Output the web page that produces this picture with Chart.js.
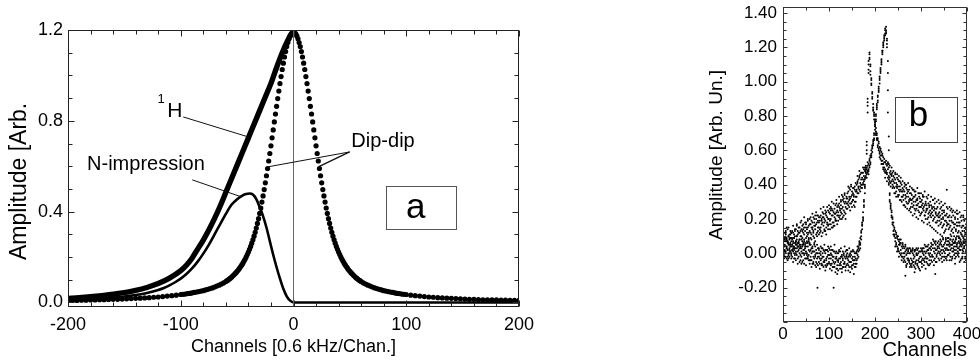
<!DOCTYPE html>
<html><head><meta charset="utf-8">
<script src="https://cdn.jsdelivr.net/npm/chart.js@4.4.1/dist/chart.umd.min.js"></script>
<style>
html,body{margin:0;padding:0;background:#fff;width:980px;height:362px;overflow:hidden}
#wa{position:absolute;left:0;top:0;width:540px;height:362px}
#wb{position:absolute;left:680px;top:0;width:300px;height:362px}
</style></head><body>
<div id="wa"><canvas id="ca" width="540" height="362"></canvas></div>
<div id="wb"><canvas id="cb" width="300" height="362"></canvas></div>
<script>
// ---------------- Panel a data ----------------
const xTicksA = [-200,-100,0,100,200];
const xTickLabelsA = ['-200','-100','0','100','200'];
const yTicksA = [0,0.4,0.8,1.2];
const yTickLabelsA = ['0.0','0.4','0.8','1.2'];

const dipX = [-200,-196,-192,-188,-184,-180,-176,-172,-168,-164,-160,-156,-152,-148,-144,-140,-136,-132,-128,-124,-120,-116,-112,-108,-104,
-100,-98,-96,-94,-92,-90,-88,-86,-84,-82,-80,-78,-76,-74,-72,-70,-68,-66,-64,-62,
-60,-59,-58,-57,-56,-55,-54,-53,-52,-51,-50,-49,-48,-47,-46,-45,-44,-43,-42,-41,-40,-39,-38,-37,-36,-35,-34,-33,-32,-31,-30,
-29,-28,-27,-26,-25,-24,-23,-22,-21,-20,-19,-18,-17,-16,-15,-14,-13,-12,-11,-10,-9,-8,-7,-6,-5,-4,-3,-2,-1,0,
1,2,3,4,5,6,7,8,9,10,11,12,13,14,15,16,17,18,19,20,21,22,23,24,25,26,27,28,29,30,
31,32,33,34,35,36,37,38,39,40,41,42,43,44,45,46,47,48,49,50,51,52,53,54,55,56,57,58,59,60,
62,64,66,68,70,72,74,76,78,80,82,84,86,88,90,92,94,96,98,100,
104,108,112,116,120,124,128,132,136,140,144,148,152,156,160,164,168,172,176,180,184,188,192,196,200];
const dipY = [0.009,0.009,0.009,0.010,0.010,0.011,0.011,0.012,0.012,0.013,0.014,0.014,0.015,0.016,0.017,0.018,0.019,0.020,0.021,0.023,0.024,0.026,0.028,0.030,0.032,
0.035,0.036,0.037,0.039,0.040,0.042,0.044,0.046,0.048,0.050,0.052,0.055,0.058,0.061,0.064,0.068,0.072,0.076,0.081,0.086,
0.092,0.096,0.099,0.103,0.107,0.111,0.116,0.121,0.126,0.131,0.137,0.143,0.150,0.157,0.164,0.172,0.181,0.190,0.200,0.211,0.222,
0.234,0.247,0.261,0.276,0.292,0.309,0.328,0.348,0.369,0.392,
0.416,0.442,0.469,0.497,0.527,0.558,0.590,0.623,0.656,0.690,0.725,0.760,0.795,0.830,0.864,0.898,0.931,0.964,0.995,1.026,
1.054,1.081,1.105,1.127,1.145,1.161,1.174,1.183,1.188,1.190,
1.188,1.183,1.174,1.161,1.145,1.127,1.105,1.081,1.054,1.026,0.995,0.964,0.931,0.898,0.864,0.830,0.795,0.760,0.725,0.690,
0.656,0.623,0.590,0.558,0.527,0.497,0.469,0.442,0.416,0.392,
0.369,0.348,0.328,0.309,0.292,0.276,0.261,0.247,0.234,0.222,0.211,0.200,0.190,0.181,0.172,0.164,0.157,0.150,0.143,0.137,
0.131,0.126,0.121,0.116,0.111,0.107,0.103,0.099,0.096,0.092,
0.086,0.081,0.076,0.072,0.068,0.064,0.061,0.058,0.055,0.052,0.050,0.048,0.046,0.044,0.042,0.040,0.039,0.037,0.036,0.035,
0.032,0.030,0.028,0.026,0.024,0.023,0.021,0.020,0.019,0.018,0.017,0.016,0.015,0.014,0.014,0.013,0.012,0.012,0.011,0.011,0.010,0.010,0.009,0.009,0.009];

const hX = [-200,-190,-180,-170,-160,-150,-140,-130,-120,-110,-100,-95,-90,-85,-80,-75,-70,-65,-60,-55,-50,-45,-40,-35,-30,-25,-20,-15,-10,-5,-2,0];
const hY = [0.018,0.021,0.025,0.030,0.036,0.043,0.053,0.066,0.083,0.107,0.140,0.164,0.195,0.235,0.275,0.320,0.370,0.425,0.485,0.545,0.605,0.665,0.725,0.785,0.845,0.905,0.965,1.035,1.100,1.155,1.182,1.190];

const nX = [-200,-190,-180,-170,-160,-150,-140,-130,-120,-115,-110,-105,-100,-95,-90,-85,-80,-75,-70,-65,-60,-55,-50,-45,-42,-39,-36,-33,-30,-27,-24,-21,-18,-15,-12,-9,-6,-3,0,50,100,150,200];
const nY = [0.010,0.012,0.014,0.017,0.021,0.026,0.033,0.042,0.055,0.064,0.075,0.089,0.105,0.125,0.150,0.180,0.215,0.255,0.300,0.345,0.390,0.430,0.455,0.472,0.478,0.480,0.475,0.455,0.420,0.380,0.330,0.270,0.210,0.155,0.105,0.060,0.027,0.008,0.000,0.000,0.000,0.000,0.000];

const zeroLineX = [0,0];
const zeroLineY = [-0.02,1.2];

// ---------------- Panel b data ----------------
const xTicksB = [0,100,200,300,400];
const xTickLabelsB = ['0','100','200','300','400'];
const yTicksB = [-0.2,0,0.2,0.4,0.6,0.8,1.0,1.2,1.4];
const yTickLabelsB = ['-0.20','0.00','0.20','0.40','0.60','0.80','1.00','1.20','1.40'];

const chB = [0,2,4,6,8,10,12,14,16,18,20,22,24,26,28,30,32,34,36,38,
40,42,44,46,48,50,52,54,56,58,60,62,64,66,68,70,72,74,76,78,
80,82,84,86,88,90,92,94,96,98,100,102,104,106,108,110,112,114,116,118,
120,122,124,126,128,130,132,134,136,138,140,142,144,146,148,150,152,154,156,158,
160,162,164,166,168,170,172,174,176,178,180,182,184,186,188,190,192,194,196,198,
200,202,204,206,208,210,212,214,216,218,220,222,224,226,228,230,232,234,236,238,
240,242,244,246,248,250,252,254,256,258,260,262,264,266,268,270,272,274,276,278,
280,282,284,286,288,290,292,294,296,298,300,302,304,306,308,310,312,314,316,318,
320,322,324,326,328,330,332,334,336,338,340,342,344,346,348,350,352,354,356,358,
360,362,364,366,368,370,372,374,376,378,380,382,384,386,388,390,392,394,396,398,400];

// spectrum with broad left wing and sharp right peak (four scans)
const scanA1 = [0.10,0.02,0.08,0.13,0.04,0.07,-0.01,0.11,0.06,0.09,
0.05,0.12,0.09,0.03,0.14,0.08,0.11,0.06,0.15,0.10,
0.08,0.16,0.12,0.07,0.13,0.18,0.10,0.15,0.09,0.17,
0.12,0.19,0.15,0.10,0.20,0.14,0.17,0.22,0.13,0.18,
0.21,0.15,0.19,0.24,0.16,0.20,0.13,0.22,0.18,0.25,
0.17,0.23,0.20,0.26,0.18,0.24,0.21,0.28,0.19,0.25,
0.22,0.29,0.25,0.31,0.23,0.27,0.32,0.24,0.30,0.26,
0.35,0.28,0.33,0.37,0.29,0.34,0.31,0.38,0.30,0.36,
0.36,0.41,0.38,0.44,0.39,0.43,0.40,0.47,0.42,0.48,
0.45,0.50,0.47,0.52,0.50,0.57,0.56,0.63,0.64,0.70,
0.72,0.81,0.84,0.92,0.94,1.02,1.05,1.13,1.16,1.23,
1.24,1.30,1.29,1.22,0.95,0.52,0.35,0.26,0.24,0.17,
0.18,0.10,0.13,0.05,0.09,0.02,0.07,0.00,0.06,-0.02,
0.05,-0.03,0.03,-0.05,0.02,-0.06,0.01,-0.04,0.03,-0.07,
0.01,-0.05,-0.01,-0.08,0.02,-0.04,-0.06,0.00,-0.09,-0.02,
-0.05,0.02,-0.03,-0.07,0.01,-0.02,0.04,-0.06,0.00,-0.04,
0.03,-0.04,0.05,-0.02,0.01,0.06,-0.05,0.02,0.04,-0.03,
0.05,-0.01,0.07,0.00,0.04,-0.04,0.06,0.02,-0.02,0.05,
-0.01,0.06,0.02,-0.04,0.07,0.01,0.04,-0.03,0.08,0.00,
0.06,-0.02,0.04,0.08,-0.03,0.05,0.01,-0.05,0.07,0.02,0.04];
const scanA2 = [0.03,0.09,0.12,0.01,0.07,0.14,0.05,0.00,0.11,0.04,
0.13,0.06,0.02,0.10,0.07,0.16,0.04,0.12,0.08,0.13,
0.14,0.09,0.17,0.11,0.06,0.15,0.12,0.19,0.08,0.13,
0.17,0.11,0.14,0.21,0.09,0.16,0.20,0.12,0.19,0.15,
0.14,0.22,0.17,0.12,0.23,0.18,0.25,0.15,0.21,0.16,
0.24,0.19,0.27,0.15,0.22,0.18,0.26,0.20,0.29,0.22,
0.28,0.21,0.26,0.30,0.20,0.33,0.25,0.29,0.23,0.32,
0.29,0.36,0.27,0.32,0.39,0.30,0.35,0.28,0.37,0.33,
0.40,0.35,0.43,0.37,0.46,0.38,0.44,0.41,0.49,0.43,
0.49,0.46,0.51,0.48,0.54,0.53,0.60,0.59,0.66,0.67,
0.76,0.78,0.87,0.88,0.97,0.99,1.08,1.10,1.18,1.21,
1.27,1.28,1.32,1.25,1.12,0.68,0.31,0.29,0.21,0.20,
0.13,0.14,0.07,0.11,0.04,0.08,0.01,0.06,-0.01,0.04,
-0.02,0.04,-0.04,0.01,-0.07,0.03,-0.03,0.00,-0.06,0.02,
-0.04,0.00,-0.07,-0.02,-0.05,0.03,-0.01,-0.08,0.01,-0.05,
0.01,-0.06,0.03,-0.01,-0.05,0.04,-0.03,0.02,-0.07,0.03,
-0.02,0.04,-0.05,0.03,0.07,-0.03,0.02,-0.01,0.06,0.01,
0.00,0.06,-0.03,0.04,0.08,0.01,-0.02,0.07,0.03,-0.01,
0.05,0.00,0.08,0.03,-0.02,0.06,-0.01,0.07,0.02,0.05,
-0.01,0.07,0.02,-0.04,0.06,0.00,0.09,0.03,-0.02,0.08,-0.01];
const scanA3 = [0.07,0.00,0.05,0.09,0.15,0.02,0.10,0.08,0.01,0.12,
0.09,0.03,0.11,0.14,0.05,0.10,0.13,0.07,0.12,0.05,
0.10,0.13,0.06,0.15,0.18,0.09,0.14,0.11,0.16,0.20,
0.09,0.15,0.18,0.13,0.16,0.22,0.11,0.18,0.15,0.21,
0.19,0.13,0.20,0.18,0.21,0.14,0.19,0.24,0.17,0.20,
0.20,0.26,0.17,0.22,0.25,0.16,0.23,0.19,0.24,0.27,
0.24,0.27,0.22,0.28,0.26,0.31,0.22,0.34,0.27,0.29,
0.32,0.30,0.38,0.29,0.33,0.36,0.31,0.34,0.39,0.30,
0.37,0.42,0.39,0.45,0.41,0.40,0.47,0.43,0.45,0.50,
0.47,0.49,0.48,0.49,0.51,0.56,0.58,0.61,0.65,0.69,
0.74,0.80,0.86,0.89,0.96,1.01,1.07,1.12,1.17,1.20,
1.26,1.27,1.30,1.20,0.82,0.40,0.34,0.27,0.22,0.18,
0.16,0.11,0.09,0.06,0.10,0.03,0.05,0.08,0.02,0.00,
0.03,0.00,-0.02,0.04,-0.01,-0.03,0.02,-0.05,0.00,-0.03,
-0.06,0.02,-0.03,0.01,-0.06,-0.01,0.02,-0.04,-0.03,0.01,
-0.02,-0.04,0.01,0.03,-0.03,0.00,-0.05,0.04,0.02,-0.01,
0.00,0.02,-0.01,0.05,-0.04,0.03,0.05,-0.02,0.00,0.04,
0.03,0.01,0.05,-0.02,0.02,0.05,0.00,-0.03,0.05,0.02,
0.02,0.04,-0.02,0.05,0.01,0.03,0.06,0.00,-0.02,0.04,
0.03,0.00,0.06,0.02,0.04,-0.03,0.03,0.06,0.00,-0.04,0.05];
const scanA4 = [0.14,-0.03,0.01,0.12,0.09,-0.02,0.15,0.03,0.13,0.00,
0.02,0.16,0.04,0.13,0.00,0.17,0.06,0.15,0.03,0.18,
0.19,0.05,0.14,0.21,0.04,0.17,0.07,0.20,0.12,0.06,
0.21,0.08,0.23,0.12,0.18,0.07,0.24,0.10,0.22,0.11,
0.12,0.26,0.10,0.21,0.27,0.13,0.23,0.11,0.27,0.14,
0.28,0.14,0.25,0.30,0.15,0.29,0.16,0.23,0.31,0.17,
0.19,0.33,0.20,0.24,0.34,0.21,0.30,0.35,0.20,0.33,
0.26,0.39,0.31,0.25,0.40,0.27,0.38,0.33,0.27,0.41,
0.33,0.45,0.35,0.48,0.36,0.47,0.38,0.50,0.40,0.44,
0.51,0.44,0.53,0.46,0.55,0.52,0.57,0.62,0.63,0.66,
0.75,0.77,0.85,0.91,0.95,1.03,1.06,1.11,1.18,1.22,
1.25,1.31,1.28,1.24,1.05,0.60,0.30,0.28,0.25,0.21,
0.11,0.15,0.04,0.12,0.01,0.10,-0.02,0.05,0.08,-0.04,
0.06,-0.05,0.00,0.05,-0.08,0.00,-0.04,0.03,-0.08,0.01,
-0.08,0.03,-0.05,0.02,-0.09,0.00,-0.07,0.03,-0.05,-0.10,
0.03,-0.08,0.00,-0.04,0.05,-0.09,0.01,-0.03,0.05,-0.07,
-0.06,0.06,-0.02,0.08,-0.07,0.00,0.07,-0.05,0.03,0.07,
-0.04,0.08,0.02,-0.05,0.09,-0.02,0.03,0.09,-0.04,0.07,
0.09,-0.04,0.05,0.10,-0.03,0.08,0.02,-0.06,0.06,0.10,
0.01,0.09,-0.05,0.05,0.11,-0.02,0.07,0.10,-0.03,0.06,0.09];

// spectrum with sharp left peak and broad right wing (four scans)
const scanB1 = [0.06,-0.01,0.04,0.00,0.08,0.02,-0.03,0.05,0.01,0.07,
-0.02,0.04,0.00,0.06,-0.04,0.03,0.01,-0.02,0.05,-0.01,
0.03,-0.05,0.02,-0.01,0.05,-0.03,0.00,0.04,-0.04,0.01,
-0.02,0.03,-0.06,0.01,-0.03,0.04,-0.05,0.00,-0.02,0.02,
-0.06,0.01,-0.03,-0.07,0.02,-0.04,0.00,-0.08,-0.02,0.01,
-0.05,0.02,-0.07,-0.01,-0.04,0.01,-0.06,-0.03,-0.09,0.00,
-0.04,-0.07,0.01,-0.05,-0.02,-0.08,0.00,-0.06,-0.03,-0.01,
-0.06,-0.02,-0.08,0.00,-0.05,-0.03,-0.07,0.01,-0.04,-0.06,
0.01,-0.03,0.04,0.02,0.09,0.13,0.14,0.24,0.28,0.39,
0.44,0.65,0.82,1.05,1.14,1.09,0.98,0.93,0.84,0.81,
0.74,0.73,0.66,0.67,0.60,0.62,0.55,0.59,0.52,0.56,
0.48,0.53,0.47,0.51,0.44,0.50,0.42,0.48,0.45,0.40,
0.45,0.38,0.43,0.36,0.44,0.39,0.34,0.42,0.37,0.33,
0.38,0.31,0.36,0.40,0.30,0.35,0.29,0.37,0.32,0.27,
0.34,0.27,0.33,0.36,0.25,0.31,0.28,0.35,0.24,0.30,
0.23,0.31,0.26,0.33,0.22,0.29,0.25,0.32,0.21,0.28,
0.30,0.21,0.27,0.19,0.25,0.29,0.18,0.26,0.22,0.16,
0.24,0.17,0.27,0.15,0.21,0.25,0.13,0.22,0.18,0.26,
0.14,0.22,0.11,0.19,0.24,0.12,0.17,0.21,0.09,0.18,
0.20,0.10,0.16,0.07,0.19,0.13,0.22,0.08,0.15,0.05,0.12];
const scanB2 = [0.01,0.05,-0.02,0.07,0.03,-0.04,0.06,0.02,0.09,-0.01,
0.05,0.01,-0.03,0.03,0.07,-0.01,0.04,0.02,-0.05,0.03,
-0.02,0.04,0.00,-0.06,0.03,0.01,-0.03,0.06,-0.01,-0.04,
0.02,-0.04,0.01,-0.02,0.05,-0.07,0.00,-0.03,0.03,-0.05,
0.00,-0.04,0.03,-0.02,-0.05,0.01,-0.07,-0.03,0.02,-0.06,
-0.01,-0.06,-0.03,0.02,-0.08,-0.02,0.01,-0.05,-0.03,-0.07,
0.00,-0.03,-0.06,-0.02,-0.09,-0.04,-0.01,-0.05,-0.08,-0.02,
-0.03,-0.07,-0.01,-0.05,-0.08,0.01,-0.04,-0.06,-0.02,0.00,
-0.04,0.02,0.01,0.06,0.05,0.10,0.17,0.20,0.31,0.35,
0.48,0.60,0.88,1.10,1.16,1.06,1.01,0.90,0.87,0.78,
0.77,0.70,0.69,0.63,0.64,0.58,0.60,0.54,0.57,0.50,
0.53,0.47,0.52,0.46,0.49,0.43,0.47,0.41,0.46,0.43,
0.39,0.44,0.35,0.41,0.38,0.33,0.42,0.36,0.31,0.40,
0.33,0.37,0.28,0.34,0.38,0.29,0.36,0.31,0.26,0.35,
0.29,0.37,0.30,0.26,0.34,0.28,0.32,0.25,0.33,0.27,
0.30,0.24,0.33,0.27,0.22,0.30,0.26,0.20,0.29,0.24,
0.22,0.28,0.24,0.31,0.20,0.26,0.23,0.18,0.27,0.21,
0.19,0.26,0.20,0.23,0.16,0.24,0.19,0.14,0.23,0.17,
0.21,0.15,0.25,0.13,0.18,0.22,0.10,0.20,0.14,0.23,
0.12,0.18,0.09,0.21,0.11,0.16,0.06,0.19,0.12,0.17,0.08];
const scanB3 = [0.04,0.02,0.07,-0.02,0.03,0.06,0.00,0.09,0.04,-0.03,
0.02,0.07,0.03,-0.01,0.01,0.05,-0.03,0.06,0.00,0.04,
0.01,0.00,0.05,0.02,-0.03,0.04,-0.01,-0.03,0.02,0.05,
-0.04,0.00,0.03,-0.05,0.01,-0.01,0.02,-0.06,0.00,-0.02,
-0.03,-0.01,-0.06,0.00,-0.02,-0.05,0.02,-0.04,-0.06,-0.01,
-0.03,-0.01,0.00,-0.06,-0.02,-0.05,-0.08,0.00,-0.02,-0.04,
-0.05,0.01,-0.03,-0.07,-0.01,-0.03,-0.06,-0.02,0.01,-0.07,
0.00,-0.04,-0.05,-0.02,-0.01,-0.07,-0.02,-0.04,-0.08,-0.03,
0.00,-0.01,0.03,0.05,0.06,0.12,0.16,0.21,0.30,0.38,
0.47,0.63,0.86,1.07,1.13,1.10,0.99,0.91,0.85,0.82,
0.75,0.71,0.67,0.66,0.61,0.59,0.57,0.57,0.54,0.52,
0.50,0.49,0.48,0.47,0.52,0.45,0.44,0.46,0.42,0.47,
0.42,0.41,0.46,0.39,0.40,0.43,0.37,0.39,0.41,0.36,
0.36,0.34,0.39,0.32,0.33,0.37,0.33,0.30,0.35,0.31,
0.31,0.32,0.28,0.33,0.30,0.26,0.31,0.29,0.27,0.32,
0.27,0.28,0.29,0.25,0.28,0.24,0.28,0.26,0.23,0.27,
0.25,0.23,0.26,0.22,0.27,0.21,0.24,0.22,0.19,0.23,
0.21,0.22,0.18,0.25,0.20,0.17,0.22,0.19,0.16,0.21,
0.17,0.19,0.16,0.21,0.14,0.18,0.15,0.17,0.13,0.16,
0.16,0.13,0.18,0.12,0.15,0.10,0.16,0.13,0.11,0.14,0.10];
const scanB4 = [-0.04,0.09,0.02,0.11,-0.03,0.07,0.10,-0.02,0.05,0.12,
0.08,-0.05,0.09,-0.03,0.06,0.10,-0.06,0.04,0.08,-0.04,
-0.06,0.07,-0.04,0.08,0.00,-0.07,0.06,-0.02,0.07,-0.06,
0.05,-0.08,0.04,-0.06,0.06,-0.02,-0.08,0.05,-0.07,0.03,
-0.09,0.04,-0.07,0.03,-0.08,0.05,-0.10,0.02,-0.07,0.04,
0.03,-0.09,0.04,-0.10,0.02,-0.08,0.05,-0.11,0.01,-0.09,
-0.10,0.02,-0.09,0.03,-0.11,0.01,-0.08,0.04,-0.10,0.02,
0.02,-0.10,0.03,-0.11,0.01,-0.09,0.02,-0.12,0.00,-0.08,
-0.06,0.04,-0.02,0.07,0.03,0.08,0.18,0.19,0.27,0.40,
0.50,0.58,0.90,1.12,1.17,1.04,1.02,0.94,0.83,0.80,
0.78,0.69,0.70,0.62,0.65,0.56,0.61,0.52,0.58,0.49,
0.55,0.44,0.54,0.42,0.53,0.41,0.51,0.39,0.50,0.38,
0.48,0.35,0.47,0.33,0.46,0.34,0.45,0.31,0.44,0.30,
0.42,0.28,0.41,0.27,0.40,0.26,0.41,0.25,0.39,0.24,
0.38,0.22,0.37,0.23,0.36,0.21,0.38,0.20,0.35,0.22,
0.35,0.19,0.34,0.18,0.36,0.20,0.33,0.17,0.34,0.18,
0.16,0.33,0.15,0.31,0.14,0.32,0.13,0.30,0.12,0.31,
0.29,0.11,0.30,0.10,0.28,0.12,0.29,0.08,0.27,0.09,
0.07,0.27,0.08,0.26,0.05,0.25,0.06,0.24,0.04,0.25,
0.23,0.03,0.24,0.05,0.22,0.02,0.21,0.04,0.20,0.01,0.19];

const strayX = [75,110,356,266,286,118,331];
const strayY = [-0.20,-0.20,0.37,-0.13,-0.11,-0.12,-0.12];

// ---------------- helpers / plugins ----------------
const FAM = '"Liberation Sans", Arial, Helvetica, sans-serif';
Chart.defaults.font.family = FAM;
Chart.defaults.color = '#000';
function pts(xs, ys){ return xs.map((x,i)=>({x:x, y:ys[i]})); }

const frameTicks = {
  id:'frameTicks',
  afterDatasetsDraw(chart, args, o){
    const {ctx, chartArea:a, scales:{x,y}} = chart;
    ctx.save();
    ctx.strokeStyle = o.color; ctx.lineWidth = 1;
    ctx.beginPath();
    const L = Math.round(a.left)+0.5, R = Math.round(a.right)-0.5, T = Math.round(a.top)+0.5, B = Math.round(a.bottom)-0.5;
    const nx = Math.round((o.xEnd-o.xStart)/o.xStep);
    for(let i=0;i<=nx;i++){
      const v = o.xStart + i*o.xStep;
      const px = Math.round(x.getPixelForValue(v))+0.5;
      const r = v/o.xMajor; const len = Math.abs(r-Math.round(r))<1e-6 ? o.major : o.minor;
      ctx.moveTo(px,B); ctx.lineTo(px,B-len);
      ctx.moveTo(px,T); ctx.lineTo(px,T+len);
    }
    const ny = Math.round((o.yEnd-o.yStart)/o.yStep);
    for(let i=0;i<=ny;i++){
      const v = o.yStart + i*o.yStep;
      const py = Math.round(y.getPixelForValue(v))+0.5;
      const r = v/o.yMajor; const len = Math.abs(r-Math.round(r))<1e-6 ? o.major : o.minor;
      ctx.moveTo(L,py); ctx.lineTo(L+len,py);
      ctx.moveTo(R,py); ctx.lineTo(R-len,py);
    }
    ctx.stroke();
    ctx.strokeRect(L,T,R-L,B-T);
    ctx.restore();
  }
};

const notes = {
  id:'notes',
  afterDatasetsDraw(chart, args, o){
    const {ctx, scales:{x,y}} = chart;
    ctx.save();
    (o.lines||[]).forEach(l=>{
      ctx.beginPath(); ctx.strokeStyle=l.color; ctx.lineWidth=l.width;
      ctx.moveTo(x.getPixelForValue(l.x1), y.getPixelForValue(l.y1));
      ctx.lineTo(x.getPixelForValue(l.x2), y.getPixelForValue(l.y2));
      ctx.stroke();
    });
    (o.boxes||[]).forEach(b=>{
      const x1=Math.round(x.getPixelForValue(b.x1))+0.5, x2=Math.round(x.getPixelForValue(b.x2))+0.5;
      const y1=Math.round(y.getPixelForValue(b.y1))+0.5, y2=Math.round(y.getPixelForValue(b.y2))+0.5;
      ctx.strokeStyle=b.color; ctx.lineWidth=b.width;
      ctx.strokeRect(x1,y1,x2-x1,y2-y1);
    });
    (o.texts||[]).forEach(t=>{
      ctx.font=t.font; ctx.fillStyle=t.color||'#000'; ctx.textAlign=t.align||'left'; ctx.textBaseline='alphabetic';
      ctx.fillText(t.text, x.getPixelForValue(t.x), y.getPixelForValue(t.y));
    });
    ctx.restore();
  }
};

const yTitle = {
  id:'yTitle',
  afterDraw(chart, args, o){
    const ctx = chart.ctx;
    ctx.save();
    ctx.translate(o.x, o.y); ctx.rotate(-Math.PI/2);
    ctx.font = o.font; ctx.fillStyle = '#000'; ctx.textAlign='left'; ctx.textBaseline='alphabetic';
    ctx.fillText(o.text, 0, 0);
    ctx.restore();
  }
};

// ---------------- Chart a ----------------
new Chart(document.getElementById('ca'), {
  type:'scatter',
  data:{ datasets:[
    {label:'zero', data:pts(zeroLineX, zeroLineY), showLine:true, borderColor:'#666', borderWidth:1, pointRadius:0},
    {label:'N-impression', data:pts(nX, nY), showLine:true, borderColor:'#000', borderWidth:2.6, pointRadius:0, cubicInterpolationMode:'monotone', borderCapStyle:'round', borderJoinStyle:'round'},
    {label:'1H', data:pts(hX, hY), showLine:true, borderColor:'#000', borderWidth:5.4, pointRadius:0, cubicInterpolationMode:'monotone', borderCapStyle:'round', borderJoinStyle:'round'},
    {label:'Dip-dip', data:pts(dipX, dipY), showLine:false, pointRadius:2.6, pointBackgroundColor:'#000', pointBorderWidth:0, pointHoverRadius:2.6}
  ]},
  options:{
    responsive:false, animation:false, devicePixelRatio:1,
    layout:{padding:{left:0,right:21,top:30,bottom:0}},
    plugins:{
      legend:{display:false}, tooltip:{enabled:false},
      frameTicks:{xStart:-200,xEnd:200,xStep:20,xMajor:100,yStart:0,yEnd:1.2,yStep:0.1,yMajor:0.4,major:6,minor:4,color:'#222'},
      notes:{
        lines:[
          {x1:-97.8,y1:0.817,x2:-40,y2:0.729,color:'#111',width:1},
          {x1:-89.8,y1:0.540,x2:-46.2,y2:0.465,color:'#111',width:1},
          {x1:49.8,y1:0.663,x2:-23.1,y2:0.597,color:'#111',width:1},
          {x1:49.8,y1:0.663,x2:22.5,y2:0.598,color:'#111',width:1.3}
        ],
        boxes:[{x1:82.2,y1:0.515,x2:144.4,y2:0.322,color:'#555',width:1}],
        texts:[
          {text:'1',x:-120.6,y:0.877,font:'13px '+FAM},
          {text:'H',x:-112,y:0.817,font:'21px '+FAM},
          {text:'N-impression',x:-183.1,y:0.584,font:'20px '+FAM},
          {text:'Dip-dip',x:51.3,y:0.684,font:'20px '+FAM},
          {text:'a',x:108.4,y:0.371,font:'35px '+FAM,align:'center'}
        ]
      },
      yTitle:{text:'Amplitude [Arb.',x:26,y:260,font:'23px '+FAM}
    },
    scales:{
      x:{type:'linear',min:-200,max:200,
        afterBuildTicks(s){ s.ticks = xTicksA.map(v=>({value:v})); },
        ticks:{callback:(v,i)=>xTickLabelsA[i], font:{size:18}, color:'#000', padding:7, maxRotation:0, autoSkip:false},
        grid:{display:false, drawTicks:false}, border:{display:false},
        title:{display:true, text:'Channels [0.6 kHz/Chan.]', font:{size:18}, color:'#000', padding:{top:0,bottom:4}},
        afterFit(s){ s.height=55; s.paddingLeft=0; s.paddingRight=0; }
      },
      y:{type:'linear',min:-0.02,max:1.2,
        afterBuildTicks(s){ s.ticks = yTicksA.map(v=>({value:v})); },
        ticks:{callback:(v,i)=>yTickLabelsA[i], font:{size:18}, color:'#000', padding:5, autoSkip:false},
        grid:{display:false, drawTicks:false}, border:{display:false},
        afterFit(s){ s.width=68; s.paddingTop=0; s.paddingBottom=0; }
      }
    }
  },
  plugins:[frameTicks, notes, yTitle]
});

// ---------------- Chart b ----------------
const dotStyle = {showLine:false, pointRadius:1.0, pointBackgroundColor:'#000', pointBorderWidth:0, pointHoverRadius:1.0};
new Chart(document.getElementById('cb'), {
  type:'scatter',
  data:{ datasets:[
    Object.assign({label:'A1', data:pts(chB, scanA1)}, dotStyle),
    Object.assign({label:'A2', data:pts(chB, scanA2)}, dotStyle),
    Object.assign({label:'A3', data:pts(chB, scanA3)}, dotStyle),
    Object.assign({label:'A4', data:pts(chB, scanA4)}, dotStyle),
    Object.assign({label:'B1', data:pts(chB, scanB1)}, dotStyle),
    Object.assign({label:'B2', data:pts(chB, scanB2)}, dotStyle),
    Object.assign({label:'B3', data:pts(chB, scanB3)}, dotStyle),
    Object.assign({label:'B4', data:pts(chB, scanB4)}, dotStyle),
    Object.assign({label:'stray', data:pts(strayX, strayY)}, dotStyle)
  ]},
  options:{
    responsive:false, animation:false, devicePixelRatio:1,
    layout:{padding:{left:0,right:13,top:7,bottom:0}},
    plugins:{
      legend:{display:false}, tooltip:{enabled:false},
      frameTicks:{xStart:0,xEnd:400,xStep:50,xMajor:100,yStart:-0.40,yEnd:1.40,yStep:0.05,yMajor:0.2,major:4,minor:3,color:'#333'},
      notes:{
        boxes:[{x1:244.4,y1:0.911,x2:378.3,y2:0.650,color:'#444',width:1}],
        texts:[{text:'b',x:294.3,y:0.742,font:'35px '+FAM,align:'center'}]
      },
      yTitle:{text:'Amplitude [Arb. Un.]',x:42,y:240,font:'19px '+FAM}
    },
    scales:{
      x:{type:'linear',min:0,max:400,
        afterBuildTicks(s){ s.ticks = xTicksB.map(v=>({value:v})); },
        ticks:{callback:(v,i)=>xTickLabelsB[i], font:{size:17}, color:'#000', padding:2, maxRotation:0, autoSkip:false},
        grid:{display:false, drawTicks:false}, border:{display:false},
        title:{display:true, text:'Channels', align:'end', font:{size:20}, color:'#000', padding:{top:0,bottom:0}},
        afterFit(s){ s.height=40; s.paddingLeft=0; s.paddingRight=0; }
      },
      y:{type:'linear',min:-0.40,max:1.435,
        afterBuildTicks(s){ s.ticks = yTicksB.map(v=>({value:v})); },
        ticks:{callback:(v,i)=>yTickLabelsB[i], font:{size:17}, color:'#000', padding:6, autoSkip:false},
        grid:{display:false, drawTicks:false}, border:{display:false},
        afterFit(s){ s.width=103; s.paddingTop=0; s.paddingBottom=0; }
      }
    }
  },
  plugins:[frameTicks, notes, yTitle]
});
</script>
</body></html>
